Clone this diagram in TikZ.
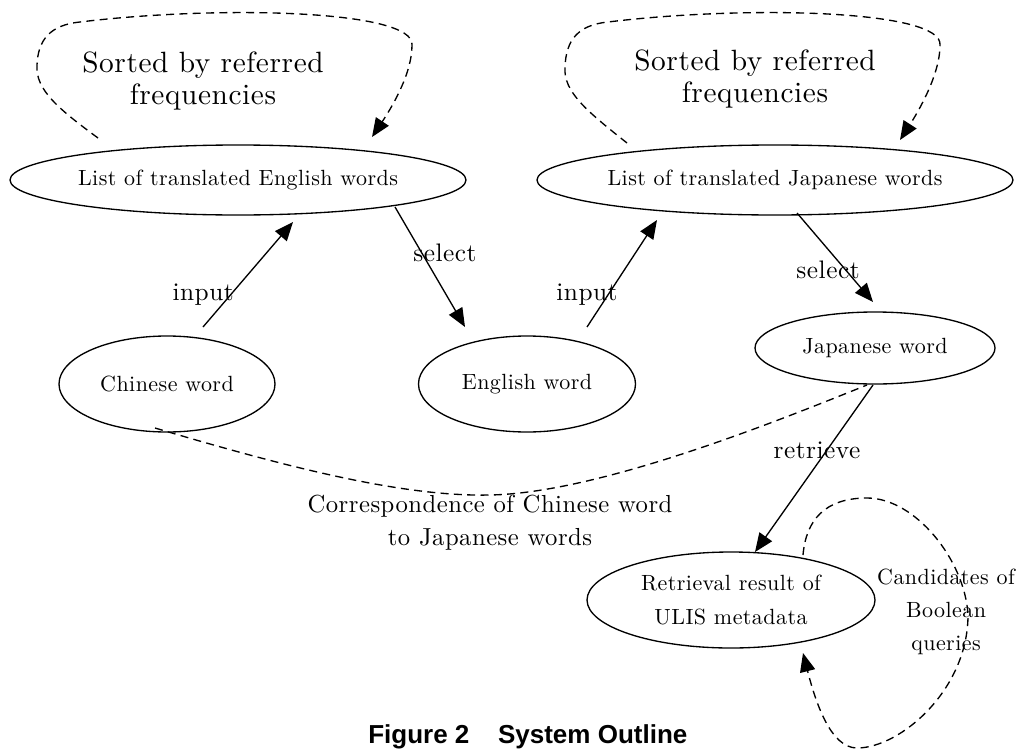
\documentclass[tikz,border=0pt]{standalone}
\usepackage{fontspec}
\setmainfont{lmroman10-regular.otf}[LetterSpace=2]
\newfontfamily\capfont{Liberation Sans}
\usetikzlibrary{arrows.meta,shapes.geometric,calc}
\begin{document}
\begin{tikzpicture}[x=0.75pt,y=-0.75pt,
  tip/.style={-{Triangle[length=14pt,width=11.5pt]}},
  ell/.style={draw, ellipse, line width=1pt, inner sep=0pt, align=center,
    font=\fontsize{16.5}{25}\selectfont},
  edge/.style={line width=1pt, tip},
  dashedge/.style={line width=1pt, dash pattern=on 6pt off 4pt},
  elabel/.style={font=\fontsize{19}{23}\selectfont, inner sep=0pt},
  biglabel/.style={font=\fontsize{22}{24}\selectfont, align=center, inner sep=0pt},
  corrlabel/.style={font=\fontsize{18.5}{24.75}\selectfont, align=center, inner sep=0pt},
  smalllabel/.style={font=\fontsize{16.5}{25}\selectfont, align=center, inner sep=0pt}]
\useasboundingbox (0,0) rectangle (1016,749);

% nodes
\node[ell, minimum width=342pt, minimum height=52.5pt] (englist) at (238,180) {\makebox[0pt]{List of translated English words}};
\node[ell, minimum width=357pt, minimum height=52.5pt] (japlist) at (775,180) {\makebox[0pt]{List of translated Japanese words}};
\node[ell, minimum width=162pt, minimum height=72pt] (chin) at (167,384) {\makebox[0pt]{Chinese word}};
\node[ell, minimum width=162.75pt, minimum height=72pt] (eng) at (527,384) {\makebox[0pt]{English word}};
\node[ell, minimum width=180pt, minimum height=54pt] (jw) at (875,348) {\makebox[0pt]{Japanese word}};
\node[ell, minimum width=216pt, minimum height=72pt] (ret) at (731,600) {Retrieval result of\\ULIS metadata};

% labels
\node[biglabel] (sortL) at (203,81) {Sorted by referred\\frequencies};
\node[biglabel] (sortR) at (755,79) {Sorted by referred\\frequencies};
\node[corrlabel] (corr) at (490,523) {Correspondence of Chinese word\\to Japanese words};
\node[smalllabel] (cand) at (946,612) {Candidates of\\Boolean\\queries};
\node[anchor=base west, inner sep=0pt, font=\capfont\bfseries\fontsize{19.5}{23}\selectfont] (cap) at (368,743) {Figure 2\hspace{21.5pt}System Outline};

% solid edges
\draw[edge] ($(chin)+(36,-57)$) -- node[elabel, pos=0.305, xshift=-20.5pt] {input} ($(englist)+(55,42)$);
\draw[edge] ($(englist)+(157,27)$) -- node[elabel, pos=0.383, xshift=17.4pt] {select} ($(eng)+(-62,-57)$);
\draw[edge] ($(eng)+(60,-57)$) -- node[elabel, pos=0.299, xshift=-15.7pt] {input} ($(japlist)+(-118,40)$);
\draw[edge] ($(japlist)+(22,33)$) -- node[elabel, pos=0.64, xshift=-13.2pt] {select} ($(jw)+(-2,-46)$);
\draw[edge] ($(jw)+(-2,37)$) -- node[elabel, pos=0.389, xshift=-7.6pt] {retrieve} ($(ret)+(24,-48)$);

% dashed loops
\draw[dashedge, tip]
  ($(englist)+(-140,-42)$) .. controls (60,110) and (35,90) .. (37,65)
  .. controls (38,40) and (50,25) .. (80,22)
  .. controls (220,5) and (415,10) .. (412,45)
  .. controls (412,75) and (390,110) .. ($(englist)+(134,-43)$);
\draw[dashedge, tip]
  ($(japlist)+(-148,-37)$) .. controls (588,112) and (563,92) .. (565,67)
  .. controls (566,40) and (578,25) .. (608,22)
  .. controls (748,5) and (943,10) .. (940,45)
  .. controls (940,75) and (918,112) .. ($(japlist)+(125,-40)$);
\draw[dashedge]
  ($(chin)+(-12,44)$) .. controls (280,465) and (400,497) .. (490,495)
  .. controls (600,493) and (780,420) .. ($(jw)+(-8,37)$);
\draw[dashedge, tip]
  ($(ret)+(72,-45)$) .. controls (806,520) and (825,498) .. (867,498)
  .. controls (915,498) and (965,560) .. (968,615)
  .. controls (968,690) and (900,748) .. (857,748)
  .. controls (830,748) and (815,700) .. ($(ret)+(72,53)$);
\end{tikzpicture}
\end{document}
